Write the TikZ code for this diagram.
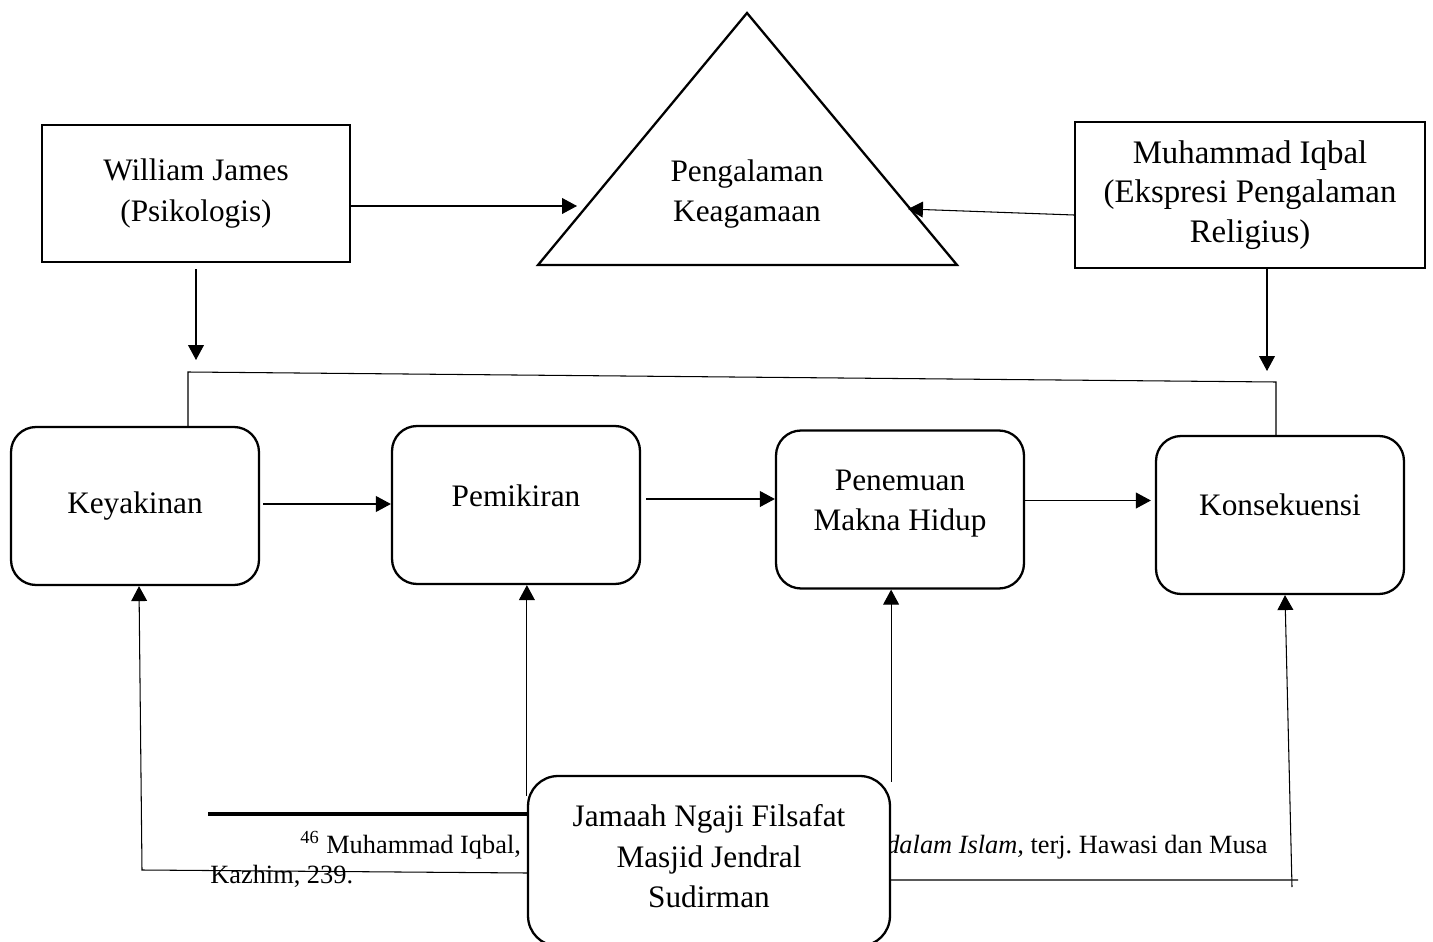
\documentclass[tikz,border=0pt]{standalone}
\usepackage{fontspec}
\setmainfont{Liberation Serif}
\usetikzlibrary{arrows.meta}

\tikzset{
  person/.style={draw, line width=1.4pt, align=center, fill=white},
  stage/.style={draw, line width=1.3pt, rounded corners=0.5cm, minimum width=4.96cm, minimum height=3.16cm, align=center, fill=white},
  note/.style={inner sep=0pt, font=\fontsize{15}{17.5}\selectfont},
  link/.style={line width=0.6pt},
}

\begin{document}
\begin{tikzpicture}[x=0.02cm,y=-0.02cm,>={Triangle[length=8.5pt,width=9pt]},font=\fontsize{17.8}{23}\selectfont]
\clip (0,0) rectangle (1433,942);
% footnote behind the bottom box
\node[note,anchor=base west] (fna) at (300,853) {\textsuperscript{46} Muhammad Iqbal,};
\node[note,anchor=base east] (fnb) at (1268,853) {\textit{dalam Islam,} terj.\ Hawasi dan Musa};
\node[note,anchor=base west] (fnc) at (210,883) {Kazhim, 239.};
\draw[line width=1.9pt] (208,814) -- (528,814);

% triangle
\coordinate (top) at (747,13);
\coordinate (lft) at (538,265);
\coordinate (rgt) at (957,265);
\draw[line width=1.3pt] (top) -- (lft) -- (rgt) -- cycle;
\node[align=center] (pk) at (747,194) {Pengalaman\\Keagamaan};

\node[person, minimum width=6.16cm, minimum height=2.74cm] (wj) at (196,193.5) {William James\\(Psikologis)};
\node[person, minimum width=7cm, minimum height=2.92cm, font=\fontsize{18.7}{22.5}\selectfont] (mi) at (1250,195) {Muhammad Iqbal\\(Ekspresi Pengalaman\\Religius)};

\node[stage] (key) at (135,506) {Keyakinan};
\node[stage, text depth=0.36cm] (pem) at (516,505) {Pemikiran};
\node[stage, text depth=0.37cm] (pen) at (900,509.5) {Penemuan\\Makna Hidup};
\node[stage, text depth=0.4cm] (kon) at (1280,515) {Konsekuensi};

\node[stage, rounded corners=0.6cm, minimum width=7.24cm, minimum height=3.4cm, text depth=0.2cm] (jam) at (709,861) {Jamaah Ngaji Filsafat\\Masjid Jendral\\Sudirman};

% arrows to the triangle
\coordinate (pkl) at (577,206);
\coordinate (pkr) at (908,209);
\draw[link,->] (wj.east |- pkl) -- (pkl);
\draw[link,->] ([yshift=-0.4cm]mi.west) -- (pkr);

\coordinate (wjd) at (196,360);
\draw[link,->] ([yshift=-0.12cm]wj.south) -- (wjd);
\coordinate (mid) at (1267,371);
\draw[link,->] (mi.south -| mid) -- (mid);

% bracket over the stages
\coordinate (brl) at (188,372);
\coordinate (brr) at (1276,382);
\draw[link] (key.north -| brl) -- (brl) -- (brr) -- (kon.north -| brr);

\draw[link,->] ([xshift=0.06cm,yshift=0.04cm]key.east) -- ([yshift=0.04cm]pem.west |- key.east);
\draw[link,->] ([xshift=0.1cm,yshift=0.12cm]pem.east) -- ([yshift=0.12cm]pen.west |- pem.east);
\draw[link,->] ([yshift=0.18cm]pen.east) -- ([xshift=-0.08cm,yshift=0.18cm]kon.west |- pen.east);

% from the bottom box
\coordinate (lc) at (142,870);
\coordinate (lt) at (139,586);
\draw[link,->] ([yshift=-0.24cm]jam.west) -- (lc) -- (lt |- key.south);
\draw[link,->] ([yshift=-0.42cm]jam.north west) -- (jam.north west |- pem.south);
\draw[link,->] ([yshift=-0.14cm]jam.north east) -- (jam.north east |- pen.south);
\coordinate (rc) at (1298,880);
\coordinate (rb) at (1292,887);
\coordinate (rt) at (1285,596);
\draw[link] ([yshift=-0.38cm]jam.east) -- (rc);
\draw[link,->] (rb) -- (rt |- kon.south);
\end{tikzpicture}
\end{document}
